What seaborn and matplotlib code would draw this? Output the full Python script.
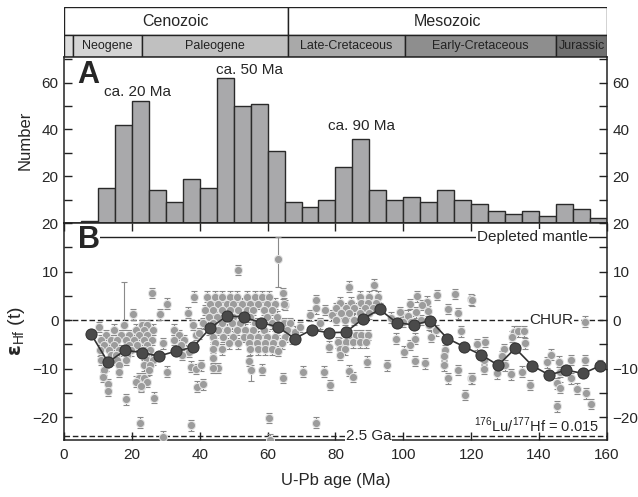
import numpy as np
import pandas as pd
import seaborn as sns
import matplotlib.pyplot as plt
from matplotlib.patches import Rectangle
from matplotlib.ticker import MultipleLocator

sns.set_style("ticks")
plt.rcParams['font.family'] = ['Liberation Sans', 'DejaVu Sans']
plt.rcParams['mathtext.fontset'] = 'custom'
plt.rcParams['mathtext.rm'] = 'Liberation Sans'
plt.rcParams['mathtext.bf'] = 'DejaVu Sans:bold'

# 地质年代条
eras = ['Cenozoic', 'Mesozoic']
era_edges = [0, 66, 160]
periods = ['', 'Neogene', 'Paleogene', 'Late-Cretaceous', 'Early-Cretaceous', 'Jurassic']
period_edges = [0, 2.6, 23, 66, 100.5, 145, 160]
period_colors = ['#dcdcdc', '#d4d4d4', '#c0c0c0', '#a9a9a9', '#8e8e8e', '#6f6f6f']

# A: 年龄直方图 (5 Ma 一格)
bin_left = [5, 10, 15, 20, 25, 30, 35, 40, 45, 50, 55, 60, 65, 70, 75, 80, 85, 90,
            95, 100, 105, 110, 115, 120, 125, 130, 135, 140, 145, 150, 155]
counts = [1, 15, 42, 52, 14, 9, 19, 15, 62, 50, 51, 31, 9, 7, 10, 24, 36, 14,
          10, 11, 9, 14, 10, 8, 5, 4, 5, 3, 8, 6, 2]

# B: 单颗锆石 εHf(t)
age_pts = [23.1, 24.6, 14.7, 21.1, 23.6, 26.1, 12.3, 16.7, 19.2, 22.1, 24.6,
           10.8, 13.8, 15.7, 18.2, 20.6, 23.6, 25.8, 11.8, 14.7, 19.2, 21.6, 24.6,
           10.6, 13.3, 16.2, 19.7, 23.6, 25.4, 13.8, 15.2, 18.7, 24.1,
           11.0, 15.7, 18.2, 24.6, 26.1, 12.3, 16.2, 23.6, 25.4, 11.8, 25.1,
           22.1, 23.6, 21.1, 24.4, 22.6,
           25.9, 30.3, 20.4, 28.4, 38.3, 36.4, 10.2, 18.2, 26.5, 22.4, 37.5, 29.1,
           13.1, 13.0, 11.6, 30.3, 16.3, 29.1, 39.1, 22.6,
           32.4, 33.9, 32.4, 35.4, 34.4, 36.9, 34.9, 37.9, 38.8, 39.8, 37.4, 38.8, 40.3,
           51.2, 60.5, 74.4, 64.5, 70.4, 76.5, 78.5, 58.3, 54.6, 41.1, 45.5, 44.0, 44.0,
           64.5, 65.2, 60.8,
           42.1, 44.5, 46.5, 48.9, 50.9, 53.9, 56.3, 58.3, 60.3,
           43.0, 45.5, 48.0, 49.9, 52.4, 54.9, 57.3, 59.8, 62.2, 64.7,
           41.6, 44.0, 46.5, 48.9, 51.4, 53.9, 55.8, 58.8, 61.2,
           42.6, 45.0, 49.9, 54.9, 59.8, 62.7,
           41.1, 44.0, 46.5, 49.4, 51.9, 56.3, 61.2, 64.7, 66.6,
           42.6, 45.5, 48.0, 50.9, 53.4, 55.8, 58.8, 62.7, 65.7,
           44.0, 47.0, 49.9, 52.9, 54.9, 57.3, 59.8, 62.2, 65.2,
           44.5, 48.5, 51.4, 54.4, 56.8, 59.3, 61.7, 64.2,
           44.0, 46.5, 54.9, 57.3, 59.3, 61.2, 63.2,
           74.4, 74.4, 72.5, 77.0, 80.4, 79.0, 75.5, 80.9, 78.0, 68.1, 69.6, 67.1,
           83.9, 91.3, 115.3, 120.0, 109.9, 104.1, 107.0, 102.1, 113.3, 116.1, 105.5,
           107.2, 99.9, 97.9, 100.2, 103.3, 102.0, 103.3, 106.3, 89.2, 95.2, 83.9, 85.3,
           108.2, 109.7, 117.1, 112.2, 111.9, 111.9, 113.1, 116.1, 118.1, 120.0,
           87.1, 90.0, 92.5, 81.2, 84.6, 87.6, 89.5, 92.0, 80.2, 83.1, 85.6, 88.6,
           91.0, 93.0, 81.7, 84.1, 87.1, 90.0, 80.2, 82.7, 85.6,
           84.1, 86.1, 87.6, 89.5, 80.7, 83.1, 85.1, 87.1, 89.0, 81.2, 82.7, 81.2,
           96.4, 98.9, 101.3, 103.8, 99.9, 102.3, 105.3, 107.7,
           120.3, 153.4, 132.6, 133.9, 135.5, 132.1, 136.0, 121.6, 124.2, 129.6, 129.1,
           123.9, 123.7, 120.3, 127.7, 130.1, 131.6, 135.0, 137.3, 143.4, 142.4, 145.9,
           149.5, 153.5, 146.3, 145.4, 146.2, 149.3, 151.3, 153.7, 155.4, 145.4, 158.1]
ehf_pts = [-1.0, -1.0, -2.0, -2.0, -2.0, -2.0, -3.1, -3.1, -3.1, -3.1, -3.1,
           -4.1, -4.1, -4.1, -4.1, -4.1, -4.1, -4.1, -5.1, -5.1, -5.1, -5.1, -5.1,
           -6.2, -6.2, -6.2, -6.2, -6.2, -6.2, -7.2, -7.2, -7.2, -7.2,
           -8.2, -8.2, -8.2, -8.2, -8.2, -9.3, -9.3, -9.3, -9.3, -10.3, -10.3,
           -12.0, -12.0, -12.7, -12.7, -13.7,
           5.6, 3.4, 1.2, 1.2, 4.8, 1.5, -1.4, -16.3, -16.0, -21.1, -21.7, -24.0,
           -13.2, -14.6, -11.7, -10.6, -10.6, -4.8, -13.7, -13.5,
           -2.0, -3.1, -4.1, -4.1, -5.1, -6.5, -7.2, -1.0, -3.1, -2.7, -9.6, -10.1, -9.3,
           10.3, -20.2, -21.1, -11.9, -10.6, -10.6, -13.4, -10.2, -8.4, -13.2, -9.9, -9.9, -7.9,
           5.5, 3.1, -24.6,
           4.8, 4.8, 4.8, 4.8, 4.8, 4.8, 4.8, 4.8, 4.8,
           3.4, 3.4, 3.4, 3.4, 3.4, 3.4, 3.4, 3.4, 3.4, 3.4,
           2.1, 2.1, 2.1, 2.1, 2.1, 2.1, 2.1, 2.1, 2.1,
           0.7, 0.7, 0.7, 0.7, 0.7, 0.7,
           -0.7, -0.7, -0.7, -0.7, -0.7, -0.7, -0.7, -0.7, -0.7,
           -2.0, -2.0, -2.0, -2.0, -2.0, -2.0, -2.0, -2.0, -2.0,
           -3.4, -3.4, -3.4, -3.4, -3.4, -3.4, -3.4, -3.4, -3.4,
           -4.8, -4.8, -4.8, -4.8, -4.8, -4.8, -4.8, -4.8,
           -6.0, -6.0, -6.0, -6.0, -6.0, -6.0, -6.4,
           4.1, 2.4, 1.0, 2.1, 2.4, 1.0, -0.7, -4.8, -5.5, -2.4, -1.4, -3.8,
           6.9, 7.3, 5.4, 4.3, 5.2, 4.9, 3.8, 3.3, 2.3, 1.4, 3.1,
           1.9, 0.9, -3.8, -6.5, -3.8, -5.1, -8.4, -8.9, -8.6, -9.3, -10.4, -11.7,
           -3.4, -2.1, -2.3, -6.2, -7.3, -9.3, -12.0, -10.3, -15.4, -12.0,
           4.8, 4.8, 4.8, 3.6, 3.6, 3.6, 3.6, 3.6, 2.5, 2.5, 2.5, 2.5,
           2.5, 2.5, 1.4, 1.4, 1.4, 1.4, 0.1, 0.1, 0.1,
           -3.1, -3.1, -3.1, -3.1, -4.6, -4.6, -4.6, -4.6, -4.6, -6.0, -6.0, -7.2,
           0.5, 1.6, 0.9, 1.6, -0.3, -0.3, 0.0, -1.0,
           4.1, -0.3, -2.4, -2.3, -2.3, -3.4, -4.8, -5.0, -4.5, -6.0, -7.5,
           -8.2, -10.1, -12.0, -11.0, -9.3, -11.2, -10.6, -13.4, -7.1, -8.7, -8.6,
           -8.2, -8.2, -10.6, -13.0, -13.9, -12.0, -14.1, -15.1, -17.3, -17.8, -9.4]
pt_err = 1.1

# 误差较大的几个点
wide_age = [17.7, 63.2, 55.1]
wide_ehf = [-1.0, 12.5, -10.2]
wide_lo = [1.0, 5.6, 2.4]
wide_hi = [8.9, 4.7, 1.0]

# 5 Ma 滑动平均
mean_age = [8, 13, 18, 23, 28, 33, 38, 43, 48, 53, 58, 63, 68, 73, 78, 83,
            88, 93, 98, 103, 108, 113, 118, 123, 128, 133, 138, 143, 148, 153, 158]
mean_ehf = [-2.9, -8.7, -6.2, -6.7, -7.4, -6.4, -5.6, -1.7, 0.9, 0.6, -0.5, -1.4,
            -3.8, -2.0, -2.6, -2.5, 0.2, 2.2, -0.5, -1.0, -0.1, -3.8, -5.5, -7.2,
            -9.3, -5.8, -9.4, -11.3, -10.3, -11.0, -9.4]

dm_ehf = 17.2
ga25_ehf = -23.9

fig = plt.figure(figsize=(6.38, 4.97), dpi=100)
L, W = 0.1003, 0.851
ax_t = fig.add_axes([L, 0.8853, W, 0.1006])
ax_a = fig.add_axes([L, 0.5513, W, 0.3340])
ax_b = fig.add_axes([L, 0.1147, W, 0.4366])

# 年代条
for i, e in enumerate(eras):
    ax_t.add_patch(Rectangle((era_edges[i], 1), era_edges[i + 1] - era_edges[i], 1.25,
                             facecolor='white', edgecolor='#222222', lw=1))
    ax_t.text((era_edges[i] + era_edges[i + 1]) / 2, 1.62, e, ha='center', va='center', fontsize=11.5)
for i, p in enumerate(periods):
    ax_t.add_patch(Rectangle((period_edges[i], 0), period_edges[i + 1] - period_edges[i], 1,
                             facecolor=period_colors[i], edgecolor='#222222', lw=1))
    ax_t.text((period_edges[i] + period_edges[i + 1]) / 2, 0.5, p, ha='center', va='center',
              fontsize=9, color='#222222')
ax_t.set_xlim(0, 160)
ax_t.set_ylim(0, 2.25)
ax_t.axis('off')

# 直方图
hist_df = pd.DataFrame({'mid': np.array(bin_left) + 2.5, 'n': counts})
sns.histplot(data=hist_df, x='mid', weights='n', binwidth=5, binrange=(5, 160),
             color='#a9a9ab', edgecolor='#2a2a2a', linewidth=1, alpha=1, ax=ax_a)
ax_a.set_xlim(0, 160)
ax_a.set_ylim(0, 71)
ax_a.set_xticks([])
ax_a.yaxis.set_major_locator(MultipleLocator(20))
ax_a.yaxis.set_minor_locator(MultipleLocator(10))
ax_a.yaxis.set_major_formatter(lambda v, p: '' if v == 0 else f'{v:.0f}')
ax_a.tick_params(axis='y', which='both', direction='in', length=6, width=1, right=True,
                 labelright=True, labelsize=11, color='#222222', pad=4)
ax_a.set_ylabel('Number', fontsize=12, labelpad=6)
ax_a.set_xlabel('')
ax_a.text(4, 63.5, 'A', fontsize=22, fontweight='bold', ha='left', va='center')
ax_a.text(21.8, 56.2, 'ca. 20 Ma', fontsize=11, ha='center', va='center')
ax_a.text(54.6, 65.5, 'ca. 50 Ma', fontsize=11, ha='center', va='center')
ax_a.text(87.6, 41.6, 'ca. 90 Ma', fontsize=11, ha='center', va='center')

# εHf 散点
ax_b.axhline(0, color='#222222', lw=1, ls=(0, (4, 2)), zorder=1)
ax_b.axhline(ga25_ehf, color='#222222', lw=1, ls=(0, (4, 2)), zorder=1)
ax_b.plot([10, 160], [dm_ehf, dm_ehf], color='#222222', lw=1, zorder=1)
ax_b.errorbar(age_pts, ehf_pts, yerr=pt_err, fmt='none', ecolor='#8a8a8a',
              elinewidth=0.8, capsize=2.5, capthick=0.8, zorder=2)
ax_b.errorbar(wide_age, wide_ehf, yerr=[wide_lo, wide_hi], fmt='none', ecolor='#8a8a8a',
              elinewidth=0.8, capsize=2.5, capthick=0.8, zorder=2)
pts = pd.DataFrame({'age': age_pts + wide_age, 'ehf': ehf_pts + wide_ehf})
sns.scatterplot(data=pts, x='age', y='ehf', s=34, color='#9c9c9c', edgecolor='#e6e6e6',
                linewidth=0.7, zorder=3, ax=ax_b)
mean_df = pd.DataFrame({'age': mean_age, 'ehf': mean_ehf})
sns.lineplot(data=mean_df, x='age', y='ehf', color='#333333', lw=1.2, marker='o',
             markersize=8, markerfacecolor='#4a4a4a', markeredgecolor='#333333',
             zorder=4, ax=ax_b)

box = dict(facecolor='white', edgecolor='none', pad=0.5)
ax_b.text(138, dm_ehf, 'Depleted mantle', fontsize=11, ha='center', va='center', bbox=box, zorder=5)
ax_b.text(143.7, 0, 'CHUR', fontsize=11, ha='center', va='center', bbox=box, zorder=5)
ax_b.text(89.8, ga25_ehf, '2.5 Ga', fontsize=11, ha='center', va='center', bbox=box, zorder=5)
ax_b.text(157.5, -21.6, r'$^{176}$Lu/$^{177}$Hf = 0.015', fontsize=10.5, ha='right', va='center', zorder=5)
ax_b.text(4, 16.5, 'B', fontsize=22, fontweight='bold', ha='left', va='center', bbox=box, zorder=5)

ax_b.set_xlim(0, 160)
ax_b.set_ylim(-24.7, 20)
ax_b.xaxis.set_major_locator(MultipleLocator(20))
ax_b.yaxis.set_major_locator(MultipleLocator(10))
ax_b.yaxis.set_minor_locator(MultipleLocator(5))
ax_b.tick_params(axis='y', which='both', direction='in', length=6, width=1, right=True,
                 labelright=True, labelsize=11, color='#222222', pad=4)
ax_b.tick_params(axis='x', which='both', direction='in', length=6, width=1, top=True,
                 labelsize=11, color='#222222', pad=6)
ax_b.set_xlabel('U-Pb age (Ma)', fontsize=12, labelpad=8)
ax_b.set_ylabel(r'$\mathbf{\varepsilon}_{\mathrm{Hf}}$ (t)', fontsize=14, labelpad=4)

for ax in (ax_a, ax_b):
    for s in ax.spines.values():
        s.set_color('#222222')
        s.set_linewidth(1.1)

fig.savefig('out.png', dpi=100)
